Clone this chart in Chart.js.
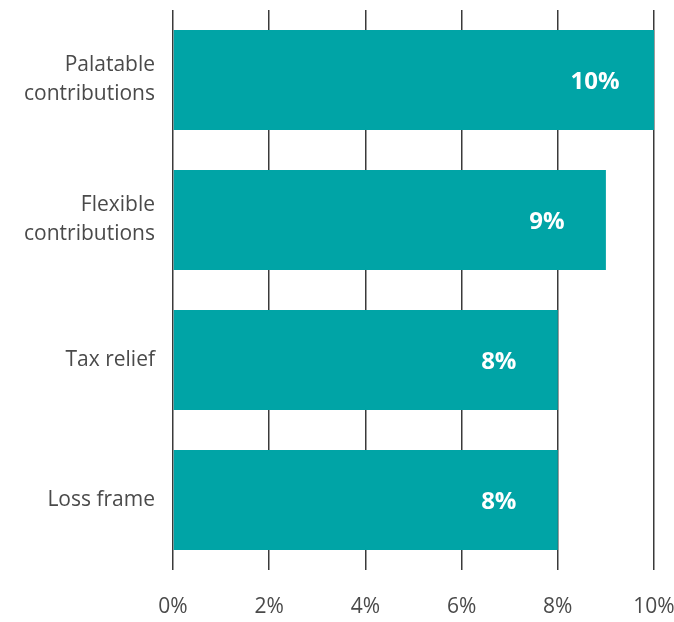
<!DOCTYPE html>
<html>
<head>
<meta charset="utf-8">
<script src="https://cdn.jsdelivr.net/npm/chart.js@4/dist/chart.umd.min.js"></script>
<style>
  html, body { margin: 0; padding: 0; background: #fff; }
  #wrap { width: 674px; height: 622px; }
</style>
</head>
<body>
<div id="wrap"><canvas id="graph-canvas"></canvas></div>
<script>
// categories and values (percent)
var labels = [["Palatable", "contributions"], ["Flexible", "contributions"], "Tax relief", "Loss frame"];
var values = [10, 9, 8, 8];
var xTicks = [0, 2, 4, 6, 8, 10];

var fontFamily = "'Open Sans', 'DejaVu Sans', sans-serif";

// white bold value near the end of each bar
var valueLabels = {
	id: 'valueLabels',
	afterDatasetsDraw: function(chart) {
		var ctx = chart.ctx;
		var meta = chart.getDatasetMeta(0);
		ctx.save();
		ctx.fillStyle = '#ffffff';
		ctx.font = "bold 24px " + fontFamily;
		ctx.textAlign = 'center';
		ctx.textBaseline = 'middle';
		meta.data.forEach(function(bar, i) {
			ctx.fillText(values[i] + '%', bar.x - 59, bar.y + 2);
		});
		ctx.restore();
	}
};

var chartData = {
	labels: labels,
	datasets: [{
		data: values,
		backgroundColor: '#00a4a6',
		borderWidth: 0,
		barPercentage: 0.715,
		categoryPercentage: 1
	}]
};

var ctx = document.getElementById('graph-canvas');
var barGraph = new Chart(ctx, {
	type: 'bar',
	data: chartData,
	plugins: [valueLabels],
	options: {
		indexAxis: 'y',
		responsive: true,
		maintainAspectRatio: false,
		animation: false,
		layout: { padding: { top: 10, right: 0, bottom: 3, left: 0 } },
		plugins: {
			legend: { display: false },
			tooltip: { enabled: false }
		},
		scales: {
			x: {
				min: 0,
				max: 10,
				afterBuildTicks: function(scale) {
					scale.ticks = xTicks.map(function(v) { return { value: v }; });
				},
				afterFit: function(scale) {
					scale.height = 49;
					scale.paddingLeft = 0;
					scale.paddingRight = 20;
				},
				grid: {
					color: '#3a3a3a',
					lineWidth: 1.5,
					drawTicks: false,
					z: -1
				},
				border: { display: false },
				ticks: {
					padding: 24,
					minRotation: 0,
					maxRotation: 0,
					color: '#4a4a4a',
					font: { family: fontFamily, size: 21, lineHeight: 1.2 },
					callback: function(v) { return v + '%'; }
				}
			},
			y: {
				grid: { display: false, drawTicks: false },
				border: { display: false },
				afterFit: function(scale) {
					scale.width = 173;
					scale.paddingTop = 0;
					scale.paddingBottom = 0;
				},
				ticks: {
					padding: 18,
					color: '#4a4a4a',
					font: { family: fontFamily, size: 21, lineHeight: 1.38 }
				}
			}
		}
	}
});
</script>
</body>
</html>
